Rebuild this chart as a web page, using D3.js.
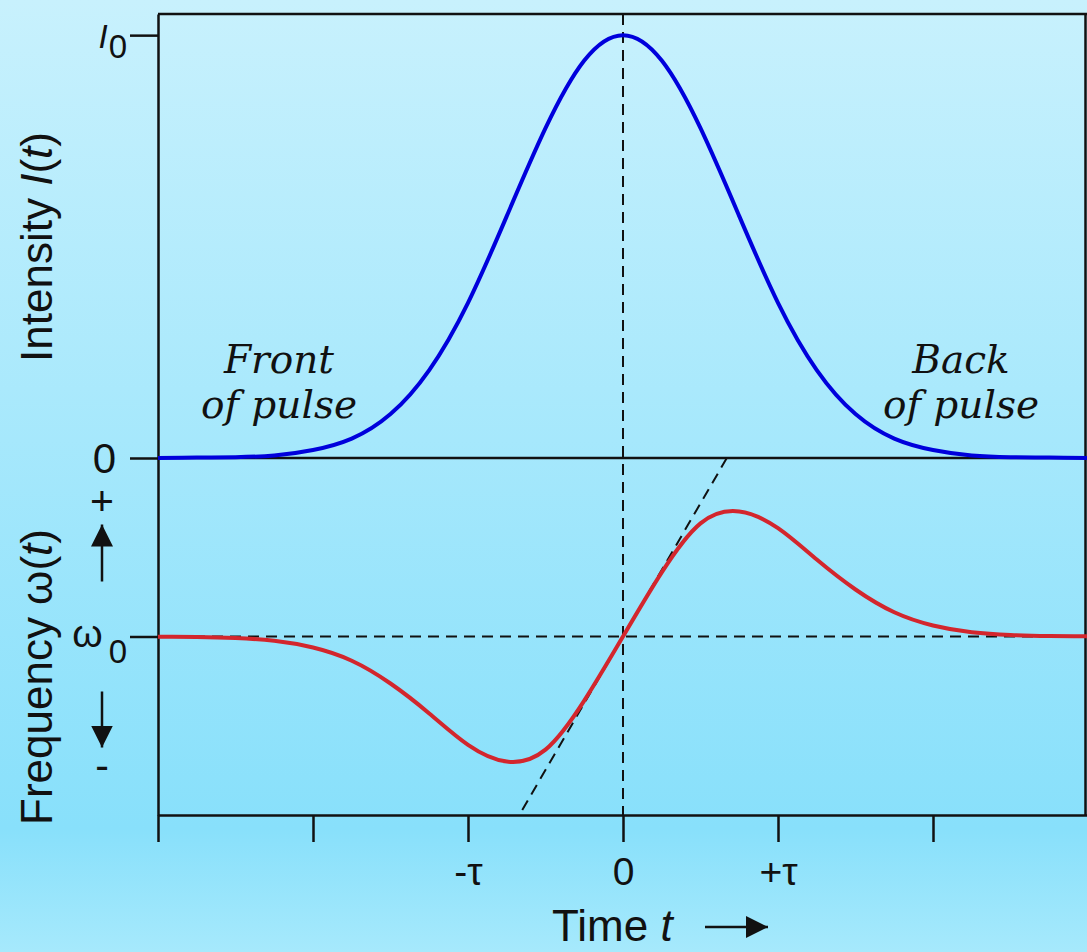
<!DOCTYPE html>
<html lang="en">
<head>
    <meta charset="UTF-8">
    <script src="https://d3js.org/d3.v7.min.js"></script>
    <style>
        body { margin: 0; }
        text { font-family: "Liberation Sans", Arial, sans-serif; fill: #111; }
        .serif { font-family: "DejaVu Serif", serif; font-style: italic; }
    </style>
</head>
<body>
    <svg id="chart" width="1087" height="952"></svg>
    <script>
        // time in units of tau
        const timeSamples = [-3, -2.75, -2.5, -2.25, -2, -1.75, -1.5, -1.25, -1, -0.75, -0.5, -0.25,
                             0, 0.25, 0.5, 0.75, 1, 1.25, 1.5, 1.75, 2, 2.25, 2.5, 2.75, 3];
        // intensity relative to I0
        const intensity = [0.000, 0.001, 0.002, 0.006, 0.019, 0.046, 0.104, 0.208, 0.367, 0.572, 0.780, 0.940,
                           1.000, 0.940, 0.780, 0.572, 0.367, 0.208, 0.104, 0.046, 0.019, 0.006, 0.002, 0.001, 0.000];
        // frequency shift from omega0 (relative)
        const freqShift = [-0.001, -0.004, -0.012, -0.034, -0.088, -0.193, -0.374, -0.612, -0.862, -0.995, -0.900, -0.510,
                           0, 0.510, 0.900, 0.995, 0.862, 0.612, 0.374, 0.193, 0.088, 0.034, 0.012, 0.004, 0.001];
        // linear chirp tangent at t = 0
        const chirpT = [-0.65, 0.67];
        const chirpW = [-1.38, 1.42];

        const timeTicks = [-3, -2, -1, 0, 1, 2, 3];
        const timeTickLabels = ["", "", "-τ", "0", "+τ", "", ""];

        const width = 1087, height = 952;
        const svg = d3.select("#chart");

        // background gradient
        const defs = svg.append("defs");
        const grad = defs.append("linearGradient")
            .attr("id", "bg").attr("x1", 0).attr("y1", 0).attr("x2", 0).attr("y2", 1);
        grad.append("stop").attr("offset", "0").attr("stop-color", "#c8f1fd");
        grad.append("stop").attr("offset", "0.87").attr("stop-color", "#88e0fb");
        grad.append("stop").attr("offset", "1").attr("stop-color", "#a6e9fc");
        svg.append("rect").attr("width", width).attr("height", height).attr("fill", "url(#bg)");

        defs.append("marker").attr("id", "head")
            .attr("viewBox", "0 0 10 10").attr("refX", 10).attr("refY", 5)
            .attr("markerWidth", 22).attr("markerHeight", 22).attr("markerUnits", "userSpaceOnUse")
            .attr("orient", "auto")
            .append("path").attr("d", "M0,0L10,5L0,10Z").attr("fill", "#111");

        const x = d3.scaleLinear().domain([-3, 3]).range([158, 1088]);
        const yI = d3.scaleLinear().domain([0, 1.05]).range([458, 14]);
        const yW = d3.scaleLinear().domain([-1.42, 1.42]).range([815, 458]);

        const line = (x1, y1, x2, y2, dash) => svg.append("line")
            .attr("x1", x1).attr("y1", y1).attr("x2", x2).attr("y2", y2)
            .attr("stroke", "#111").attr("stroke-width", dash ? 2 : 2.5)
            .attr("stroke-dasharray", dash ? "11,7" : null);

        // frame
        line(x(-3), yI(1.05), width, yI(1.05));
        line(width - 1.5, yI(1.05), width - 1.5, yW(-1.42));
        line(x(-3), yI(0), width, yI(0));

        // dashed guides
        line(x(0), yI(1.05), x(0), yW(-1.42), true);
        line(x(-3), yW(0), x(3), yW(0), true);
        line(x(chirpT[0]), yW(chirpW[0]), x(chirpT[1]), yW(chirpW[1]), true);

        // left axes
        const axI = svg.append("g").attr("transform", `translate(${x(-3)},0)`)
            .call(d3.axisLeft(yI).tickValues([0, 1]).tickSize(28).tickSizeOuter(0).tickFormat(""));
        const axW = svg.append("g").attr("transform", `translate(${x(-3)},0)`)
            .call(d3.axisLeft(yW).tickValues([0]).tickSize(28).tickSizeOuter(0).tickFormat(""));
        // bottom axis
        const axT = svg.append("g").attr("transform", `translate(0,${yW(-1.42)})`)
            .call(d3.axisBottom(x).tickValues(timeTicks).tickSize(27).tickSizeOuter(0).tickPadding(15)
                .tickFormat((d, i) => timeTickLabels[i]));
        [axI, axW, axT].forEach(a => {
            a.selectAll("path, line").attr("stroke", "#111").attr("stroke-width", 2.5);
            a.selectAll("text").style("font-size", "39px").attr("fill", "#111")
                .style("font-family", "'Liberation Sans', Arial, sans-serif");
        });

        // curves
        const pts = timeSamples.map((t, i) => ({ t, I: intensity[i], w: freqShift[i] }));
        svg.append("path").datum(pts)
            .attr("fill", "none").attr("stroke", "#0000dc").attr("stroke-width", 4)
            .attr("d", d3.line().x(d => x(d.t)).y(d => yI(d.I)).curve(d3.curveNatural));
        svg.append("path").datum(pts)
            .attr("fill", "none").attr("stroke", "#d3262d").attr("stroke-width", 4)
            .attr("d", d3.line().x(d => x(d.t)).y(d => yW(d.w)).curve(d3.curveNatural));

        // left tick labels
        const i0 = svg.append("text").attr("x", 127).attr("y", yI(1) + 13).attr("text-anchor", "end");
        i0.append("tspan").style("font-style", "italic").style("font-size", "33px").text("I");
        i0.append("tspan").style("font-size", "33px").attr("dx", 1).attr("dy", 10).text("0");

        svg.append("text").attr("x", 116).attr("y", yI(0)).attr("dy", "0.36em")
            .attr("text-anchor", "end").style("font-size", "42px").text("0");

        const w0 = svg.append("text").attr("x", 127).attr("y", yW(0) + 10).attr("text-anchor", "end");
        w0.append("tspan").style("font-size", "39px").text("ω");
        w0.append("tspan").style("font-size", "33px").attr("dx", 6).attr("dy", 16).text("0");

        svg.append("text").attr("x", 102).attr("y", yW(0) - 136).attr("dy", "0.35em")
            .attr("text-anchor", "middle").style("font-size", "41px").text("+");
        svg.append("text").attr("x", 102).attr("y", yW(0) + 128).attr("dy", "0.35em")
            .attr("text-anchor", "middle").style("font-size", "41px").text("-");
        svg.append("line").attr("x1", 102).attr("y1", yW(0) - 55).attr("x2", 102).attr("y2", yW(0) - 112)
            .attr("stroke", "#111").attr("stroke-width", 2.5).attr("marker-end", "url(#head)");
        svg.append("line").attr("x1", 102).attr("y1", yW(0) + 55).attr("x2", 102).attr("y2", yW(0) + 111)
            .attr("stroke", "#111").attr("stroke-width", 2.5).attr("marker-end", "url(#head)");

        // axis titles
        const tI = svg.append("text").attr("transform", "translate(52,247) rotate(-90)")
            .attr("text-anchor", "middle").style("font-size", "44px");
        tI.append("tspan").text("Intensity ");
        tI.append("tspan").style("font-style", "italic").text("I");
        tI.append("tspan").text("(");
        tI.append("tspan").style("font-style", "italic").text("t");
        tI.append("tspan").text(")");

        const tW = svg.append("text").attr("transform", "translate(52,677) rotate(-90)")
            .attr("text-anchor", "middle").style("font-size", "44px");
        tW.append("tspan").text("Frequency ω(");
        tW.append("tspan").style("font-style", "italic").text("t");
        tW.append("tspan").text(")");

        const tT = svg.append("text").attr("x", 552).attr("y", 941).style("font-size", "44px");
        tT.append("tspan").text("Time ");
        tT.append("tspan").style("font-style", "italic").text("t");
        svg.append("line").attr("x1", 705).attr("y1", 927).attr("x2", 768).attr("y2", 927)
            .attr("stroke", "#111").attr("stroke-width", 2.5).attr("marker-end", "url(#head)");

        // annotations
        const note = (cx, lines) => lines.forEach((s, i) => svg.append("text")
            .attr("class", "serif").attr("x", cx).attr("y", 373 + i * 45)
            .attr("text-anchor", "middle").style("font-size", "39px").text(s));
        note(279, ["Front", "of pulse"]);
        note(961, ["Back", "of pulse"]);
    </script>
</body>
</html>
